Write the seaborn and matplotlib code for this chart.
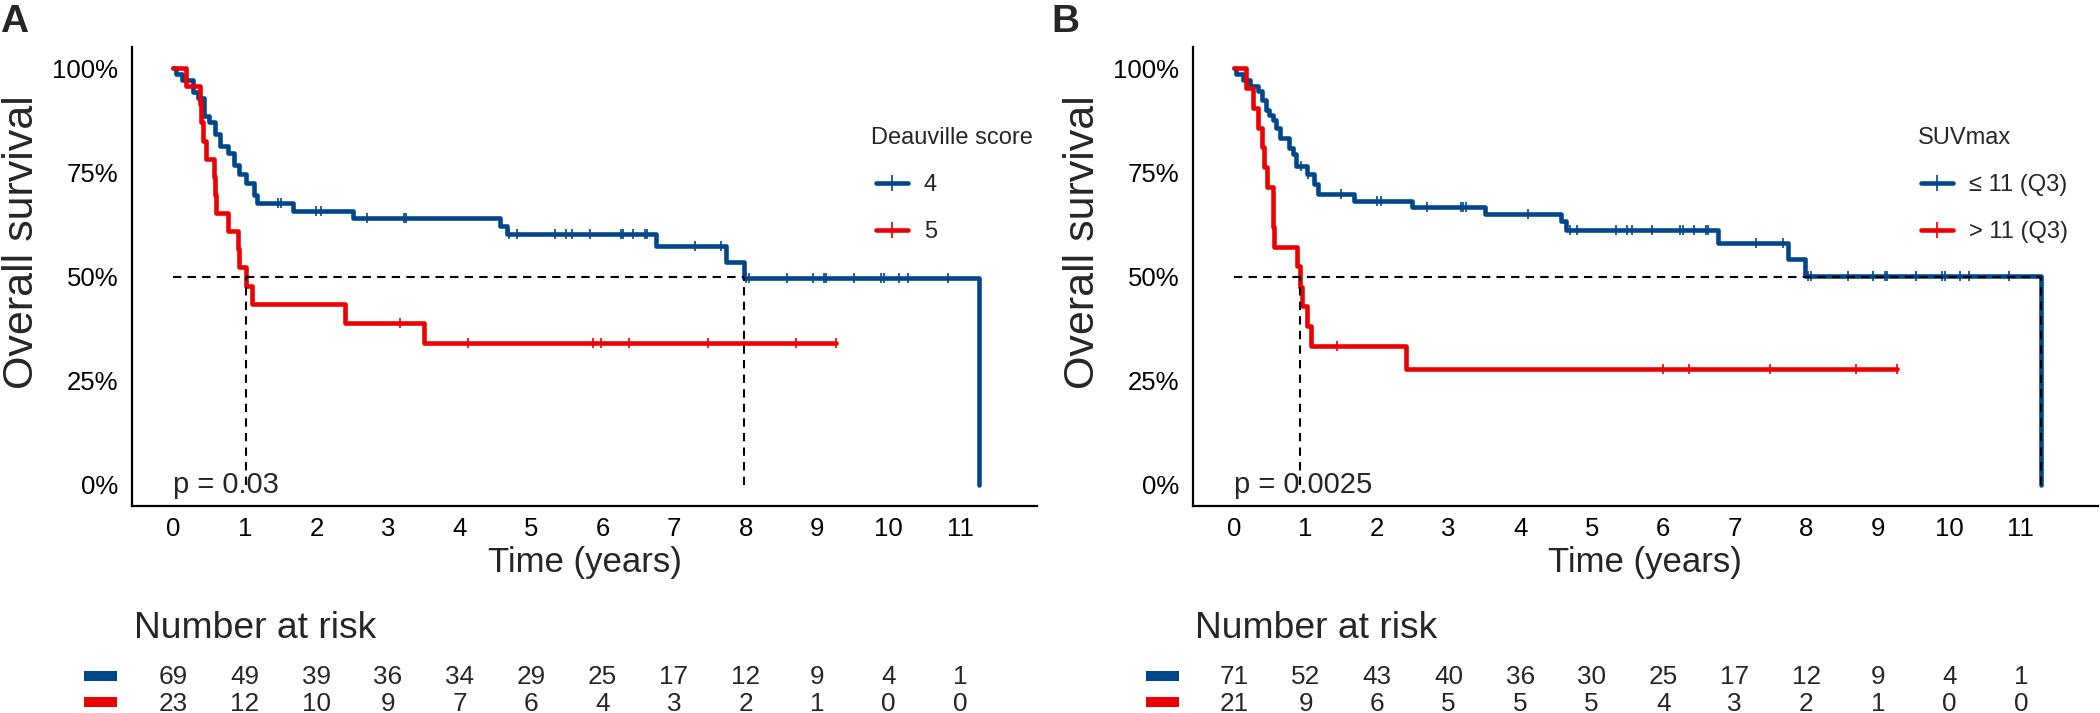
import numpy as np
import matplotlib
matplotlib.use("Agg")
import matplotlib.pyplot as plt
import seaborn as sns
from matplotlib.lines import Line2D
from matplotlib.patches import Rectangle

sns.set_theme(style="white")
plt.rcParams["font.family"] = ["Liberation Sans", "DejaVu Sans"]

# ---------------- data ----------------
BLUE = "#00468B"
RED = "#ED0000"

time_ticks = list(range(0, 12))

# Panel A: Deauville score
a_blue_t = [0.00, 0.03, 0.12, 0.27, 0.35, 0.43, 0.50, 0.58, 0.65, 0.77, 0.85, 0.92,
            1.02, 1.12, 1.17, 1.67, 2.51, 4.57, 4.67, 6.75, 7.72, 7.98, 11.27]
a_blue_s = [1.000, 0.986, 0.971, 0.942, 0.928, 0.884, 0.870, 0.841, 0.812, 0.797, 0.768, 0.746,
            0.725, 0.696, 0.677, 0.658, 0.641, 0.622, 0.602, 0.573, 0.535, 0.497, 0.000]
a_blue_cens = [1.46, 1.51, 2.00, 2.06, 2.71, 3.22, 3.25, 4.69, 4.80, 5.34, 5.49, 5.57, 5.83,
               6.26, 6.29, 6.43, 6.60, 6.62, 7.29, 7.66, 8.01, 8.05, 8.58, 8.94, 9.10, 9.12,
               9.52, 9.90, 9.93, 10.15, 10.27, 10.83]
a_red_t = [0.00, 0.18, 0.37, 0.39, 0.42, 0.45, 0.565, 0.58, 0.60, 0.76, 0.90, 0.91,
           1.02, 1.10, 2.40, 3.51]
a_red_s = [1.000, 0.957, 0.913, 0.870, 0.826, 0.783, 0.739, 0.696, 0.652, 0.609, 0.565, 0.522,
           0.478, 0.435, 0.389, 0.341]
a_red_cens = [3.17, 4.12, 5.87, 5.98, 6.37, 7.48, 8.70, 9.27]
a_groups = ["4", "5"]
a_title = "Deauville score"
a_pval = "p = 0.03"
a_risk_blue = [69, 49, 39, 36, 34, 29, 25, 17, 12, 9, 4, 1]
a_risk_red = [23, 12, 10, 9, 7, 6, 4, 3, 2, 1, 0, 0]

# Panel B: SUVmax
b_blue_t = [0.00, 0.02, 0.12, 0.22, 0.34, 0.39, 0.44, 0.49, 0.54, 0.59, 0.64, 0.77,
            0.82, 0.87, 1.02, 1.12, 1.17, 1.67, 2.49, 3.51, 4.57, 4.64, 6.76, 7.74, 7.98, 11.28]
b_blue_s = [1.000, 0.986, 0.972, 0.958, 0.944, 0.924, 0.900, 0.888, 0.876, 0.856, 0.833, 0.809,
            0.793, 0.765, 0.745, 0.722, 0.699, 0.682, 0.667, 0.649, 0.633, 0.611, 0.581, 0.543,
            0.502, 0.000]
b_blue_cens = [0.93, 1.03, 1.49, 2.00, 2.05, 2.70, 3.17, 3.20, 3.24, 4.11, 4.69, 4.80, 5.34,
               5.49, 5.57, 5.84, 6.24, 6.28, 6.43, 6.60, 6.63, 7.30, 7.67, 8.02, 8.06, 8.58,
               8.94, 9.10, 9.13, 9.53, 9.90, 9.94, 10.15, 10.28, 10.84]
b_red_t = [0.00, 0.16, 0.26, 0.33, 0.39, 0.42, 0.46, 0.54, 0.55, 0.56, 0.88, 0.92, 0.95,
           1.02, 1.08, 2.40]
b_red_s = [1.000, 0.952, 0.905, 0.857, 0.810, 0.762, 0.714, 0.667, 0.619, 0.571, 0.524, 0.476,
           0.429, 0.381, 0.333, 0.278]
b_red_cens = [1.44, 6.00, 6.36, 7.49, 8.70, 9.27]
b_groups = ["\u2264 11 (Q3)", "> 11 (Q3)"]
b_title = "SUVmax"
b_pval = "p = 0.0025"
b_risk_blue = [71, 52, 43, 40, 36, 30, 25, 17, 12, 9, 4, 1]
b_risk_red = [21, 9, 6, 5, 5, 5, 4, 3, 2, 1, 0, 0]

# ---------------- layout ----------------
W, H = 2100, 713
fig = plt.figure(figsize=(W / 100, H / 100), dpi=100)

AX_W = 904.7 / W
AX_B = 1 - 505.7 / H
AX_H = 458.4 / H
XLIM = (-0.575, 12.075)
LW = 3.3


def step_at(ts, ss, t):
    i = np.searchsorted(ts, t, side="right") - 1
    return ss[i]


def median_of(ts, ss):
    for t, s in zip(ts, ss):
        if s <= 0.5:
            return t
    return None


def ax_y(px):
    return (505.7 - px) / 458.4


def draw_panel(left_px, letter, letter_px, curves, groups, title, pval, risk_rows,
               title_x, leg_x):
    ax = fig.add_axes([left_px / W, AX_B, AX_W, AX_H])
    medians = []
    for (ts, ss, cens, col) in curves:
        ts = list(ts)
        ss = list(ss)
        if max(cens) > ts[-1]:
            ts.append(max(cens))
            ss.append(ss[-1])
        sns.lineplot(x=ts, y=ss, drawstyle="steps-post", estimator=None, sort=False,
                     color=col, linewidth=LW, ax=ax, legend=False, zorder=2)
        cy = [step_at(np.array(ts), np.array(ss), c) for c in cens]
        sns.scatterplot(x=cens, y=cy, marker="|", s=55, color=col, linewidth=1.2,
                        ax=ax, legend=False, zorder=3)
        m = median_of(ts, ss)
        if m is not None:
            medians.append(m)
    # median lines
    ax.plot([0, max(medians)], [0.5, 0.5], color="black", lw=1.5, dashes=(4, 3), zorder=4)
    for m in medians:
        ax.plot([m, m], [0, 0.5], color="black", lw=1.5, dashes=(4, 3), zorder=4)

    ax.set_xlim(*XLIM)
    ax.set_ylim(-0.05, 1.05)
    ax.set_xticks(time_ticks)
    ax.set_yticks([0, 0.25, 0.5, 0.75, 1.0])
    ax.set_yticklabels(["0%", "25%", "50%", "75%", "100%"])
    for sp in ["top", "right"]:
        ax.spines[sp].set_visible(False)
    for sp in ["left", "bottom"]:
        ax.spines[sp].set_color("black")
        ax.spines[sp].set_linewidth(1.6)
    ax.tick_params(axis="both", direction="out", length=5, width=1.6, colors="black",
                   labelsize=18.5)
    ax.tick_params(axis="x", pad=3)
    ax.tick_params(axis="y", pad=5)
    ax.set_xlabel("Time (years)", fontsize=25)
    ax.xaxis.set_label_coords(0.5, -0.087)
    ax.set_ylabel("Overall survival", fontsize=31, va="center")
    ax.yaxis.set_label_coords((22.0 - 132.3) / 904.7, ax_y(242))

    ax.text(0, 0, pval, ha="left", va="center", fontsize=21, zorder=5)

    # legend: title drawn as text, keys as legend
    ax.text(title_x, ax_y(138), title, ha="left", va="center", fontsize=17,
            transform=ax.transAxes)
    handles = [Line2D([0], [0], color=c[3], lw=LW, marker="|", markersize=11,
                      markeredgewidth=1.2) for c in curves]
    ax.legend(handles, groups, loc="upper left", bbox_to_anchor=(leg_x, ax_y(174.0)),
              frameon=False, fontsize=17, handlelength=1.35, handletextpad=0.68,
              labelspacing=1.07, borderpad=0, borderaxespad=0)

    # panel letter
    fig.text(letter_px / W, 1 - 4 / H, letter, fontsize=28, fontweight="bold",
             va="top", ha="left")

    # risk table
    fig.text((left_px + 1.7) / W, 1 - 638.3 / H, "Number at risk", fontsize=26.8,
             va="baseline", ha="left")
    axr = fig.add_axes([left_px / W, 0, AX_W, 63 / H])
    axr.set_xlim(*XLIM)
    axr.set_ylim(0, 1)
    axr.axis("off")
    rows_y = [(H - 676.7) / 63, (H - 704.0) / 63]
    for (vals, col), yy in zip(risk_rows, rows_y):
        for t, v in zip(time_ticks, vals):
            axr.text(t, yy, str(v), ha="center", va="center", fontsize=18.8)
    return ax


draw_panel(132.3, "A", 0.0,
           [(a_blue_t, a_blue_s, a_blue_cens, BLUE), (a_red_t, a_red_s, a_red_cens, RED)],
           a_groups, a_title, a_pval, [(a_risk_blue, BLUE), (a_risk_red, RED)],
           0.8165, 0.8217)
draw_panel(1193.0, "B", 1051.0,
           [(b_blue_t, b_blue_s, b_blue_cens, BLUE), (b_red_t, b_red_s, b_red_cens, RED)],
           b_groups, b_title, b_pval, [(b_risk_blue, BLUE), (b_risk_red, RED)],
           0.8007, 0.8048)

# colour keys of the risk table
for x0 in (84, 1146):
    for (y0, col) in ((671, BLUE), (697, RED)):
        fig.add_artist(Rectangle((x0 / W, 1 - (y0 + 9.5) / H), 33 / W, 9.5 / H,
                                 transform=fig.transFigure, color=col, lw=0))

fig.savefig("out.png", dpi=100)
